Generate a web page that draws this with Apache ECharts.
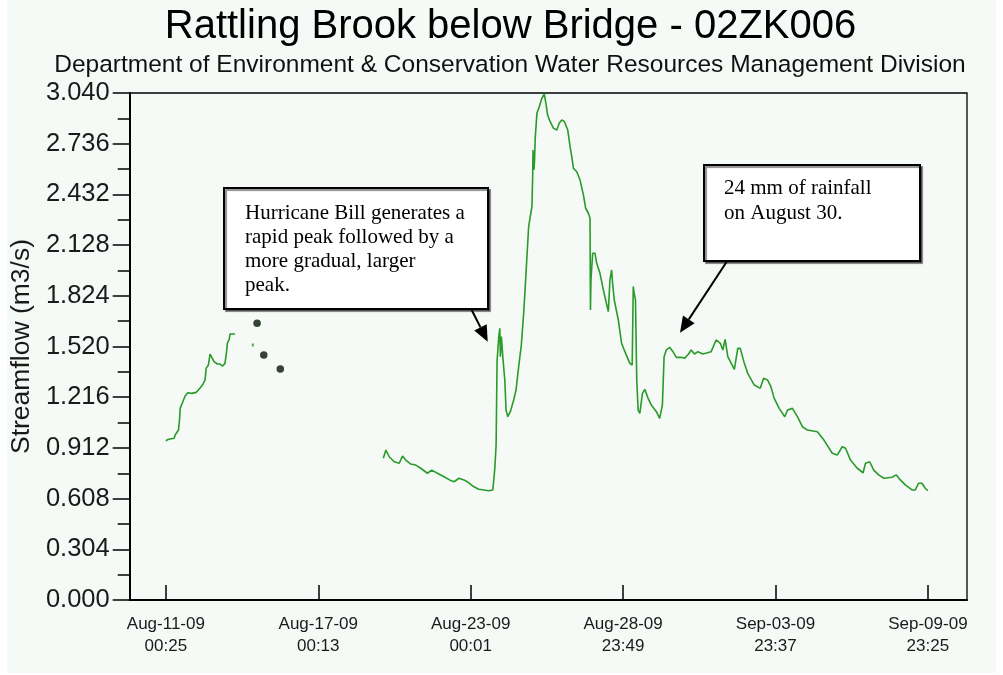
<!DOCTYPE html>
<html>
<head>
<meta charset="utf-8">
<title>Rattling Brook below Bridge - 02ZK006</title>
<script src="https://cdn.jsdelivr.net/npm/echarts@6/dist/echarts.min.js"></script>
<style>
  html, body { margin: 0; padding: 0; background: #ffffff; }
  #chart { width: 1003px; height: 675px; }
</style>
</head>
<body>
<div id="chart"></div>
<script>
// Hours elapsed since Aug-11-09 00:25, and streamflow in m3/s.
// First stretch of record (before the gauge outage).
const hoursEarly = [0, 2.5, 7.9, 8.8, 11.9, 12.9, 13.5, 16.0, 18.2, 20.7, 24.4, 28.6, 30.7, 33.8, 35.4,
  37.0, 38.0, 40.1, 41.7, 43.2, 45.5, 48.6, 51.1, 53.5, 55.8, 57.3, 58.0, 59.8, 60.5, 65.2];
const flowEarly = [0.955, 0.964, 0.970, 0.989, 1.019, 1.079, 1.149, 1.189, 1.223, 1.243, 1.239, 1.245, 1.259, 1.283, 1.299,
  1.319, 1.389, 1.409, 1.475, 1.469, 1.429, 1.415, 1.415, 1.403, 1.419, 1.489, 1.539, 1.563, 1.595, 1.595];

// Lone logged reading inside the outage.
const hoursLone = [82.1];
const flowLone = [1.529];

// Manual (field) measurements.
const hoursManual = [86.1, 92.4, 108.0];
const flowManual = [1.659, 1.469, 1.385];

// Second stretch of record: Hurricane Bill and the recession after it.
const hoursLate = [205.2, 207.6, 210.8, 215.5, 220.2, 223.3, 226.4, 231.1, 235.8, 240.5, 246.8, 250.8, 256.2, 262.5,
  267.7, 271.9, 276.6, 281.3, 285.9, 290.6, 295.3, 300.0, 304.7, 308.5, 310.4, 311.6, 312.5, 314.1, 315.1, 315.6,
  316.6, 317.9, 319.8, 321.0, 322.6, 325.0, 328.2, 330.4, 332.9, 335.4, 337.6, 339.1, 340.7, 342.3, 343.8, 345.4,
  346.1, 346.4, 347.3, 347.9, 348.5, 350.1, 352.3, 354.8, 357.0, 358.6, 360.2, 362.6, 365.8, 368.9, 371.1, 373.6,
  376.1, 379.2, 381.4, 383.0, 384.6, 387.7, 390.8, 394.0, 396.1, 398.7, 400.2, 400.6, 401.1, 402.7, 404.9, 406.5,
  409.6, 412.8, 417.5, 419.0, 420.6, 421.5, 423.1, 426.9, 430.0, 433.1, 437.8, 440.0, 441.0, 441.9, 443.1, 444.3,
  445.6, 447.2, 449.7, 451.9, 455.0, 458.1, 462.8, 465.9, 468.5, 470.1, 472.2, 475.3, 478.5, 481.6, 486.3, 489.4,
  493.2, 495.7, 498.8, 502.0, 506.7, 514.5, 519.2, 523.2, 525.5, 527.7, 530.2, 536.4, 539.6, 542.0, 545.8, 549.0,
  555.2, 560.8, 564.0, 567.8, 570.9, 574.0, 578.7, 584.0, 586.6, 591.2, 595.9, 600.6, 605.3, 614.7, 620.9, 628.8,
  633.5, 638.2, 641.3, 646.0, 652.3, 657.9, 660.1, 664.1, 667.9, 672.6, 677.3, 685.2, 689.2, 693.0, 697.7, 704.0,
  707.1, 710.2, 713.4, 716.5, 719.0];
const flowLate = [0.850, 0.899, 0.859, 0.829, 0.820, 0.863, 0.839, 0.815, 0.809, 0.790, 0.760, 0.779, 0.760, 0.739,
  0.720, 0.709, 0.730, 0.720, 0.703, 0.679, 0.664, 0.660, 0.655, 0.660, 0.790, 0.929, 1.429, 1.579, 1.629, 1.459,
  1.579, 1.459, 1.319, 1.139, 1.099, 1.129, 1.199, 1.259, 1.399, 1.529, 1.719, 1.879, 2.058, 2.238, 2.298, 2.358,
  2.538, 2.698, 2.578, 2.638, 2.768, 2.918, 2.958, 3.008, 3.034, 2.978, 2.908, 2.868, 2.828, 2.818, 2.858, 2.878,
  2.868, 2.818, 2.718, 2.658, 2.588, 2.568, 2.518, 2.428, 2.349, 2.319, 2.289, 1.739, 1.919, 2.079, 2.079, 2.019,
  1.959, 1.859, 1.729, 1.919, 1.979, 1.899, 1.799, 1.679, 1.539, 1.489, 1.419, 1.409, 1.879, 1.839, 1.799, 1.319,
  1.139, 1.119, 1.239, 1.263, 1.209, 1.169, 1.129, 1.089, 1.169, 1.459, 1.499, 1.515, 1.489, 1.455, 1.455, 1.449,
  1.475, 1.499, 1.475, 1.489, 1.475, 1.489, 1.559, 1.539, 1.499, 1.563, 1.459, 1.383, 1.509, 1.509, 1.419, 1.359,
  1.289, 1.269, 1.329, 1.319, 1.279, 1.209, 1.149, 1.099, 1.139, 1.149, 1.099, 1.039, 1.019, 1.009, 0.959, 0.880,
  0.869, 0.919, 0.910, 0.839, 0.790, 0.763, 0.820, 0.829, 0.779, 0.750, 0.730, 0.736, 0.750, 0.720, 0.690, 0.660,
  0.660, 0.700, 0.700, 0.670, 0.655];

// Time-axis ticks (hours since start) and their labels.
const tickHours = [0, 143.8, 287.6, 431.4, 575.2, 719];
const tickLabels = ['Aug-11-09\n00:25', 'Aug-17-09\n00:13', 'Aug-23-09\n00:01',
  'Aug-28-09\n23:49', 'Sep-03-09\n23:37', 'Sep-09-09\n23:25'];

// Flow-axis settings.
const flowMax = 3.04;
const flowStep = 0.304;

const titleText = 'Rattling Brook below Bridge - 02ZK006';
const subtitleText = 'Department of Environment & Conservation Water Resources Management Division';
const noteBill = ['Hurricane Bill generates a', 'rapid peak followed by a', 'more gradual, larger', 'peak.'];
const noteRain = ['24 mm of rainfall', 'on August 30.'];

// Build [x, y] pairs; a null row breaks the line across the outage.
const pairs = (xs, ys) => xs.map((x, i) => [x, ys[i]]);
const flowLine = pairs(hoursEarly, flowEarly).concat([[null, null]], pairs(hoursLate, flowLate));

const chart = echarts.init(document.getElementById('chart'));

const SANS = '"Liberation Sans", Arial, sans-serif';
const SERIF = '"Liberation Serif", "Times New Roman", serif';

// Callout box with text lines.
function callout(x, y, w, h, lines, tx, ty, lh) {
  const els = [{
    type: 'rect',
    shape: { x: x, y: y, width: w, height: h },
    style: {
      fill: '#ffffff', stroke: '#000000', lineWidth: 2,
      shadowColor: 'rgba(0,0,0,0.45)', shadowOffsetX: 2, shadowOffsetY: 2, shadowBlur: 1
    },
    z: 10
  }];
  lines.forEach((t, i) => {
    els.push({
      type: 'text',
      style: { text: t, x: tx, y: ty + i * lh, font: '21px ' + SERIF, fill: '#000000', verticalAlign: 'middle', align: 'left' },
      z: 11
    });
  });
  return els;
}

// Arrow from (x1, y1) to a filled head at (x2, y2).
function arrow(x1, y1, x2, y2) {
  const len = 16, half = 7;
  const dx = x2 - x1, dy = y2 - y1;
  const d = Math.sqrt(dx * dx + dy * dy);
  const ux = dx / d, uy = dy / d;
  const bx = x2 - ux * len, by = y2 - uy * len;
  return [{
    type: 'line',
    shape: { x1: x1, y1: y1, x2: bx, y2: by },
    style: { stroke: '#000000', lineWidth: 2 },
    z: 10
  }, {
    type: 'polygon',
    shape: { points: [[x2, y2], [bx - uy * half, by + ux * half], [bx + uy * half, by - ux * half]] },
    style: { fill: '#000000' },
    z: 10
  }];
}

const option = {
  animation: false,
  backgroundColor: '#ffffff',
  grid: {
    left: 126, right: 36, top: 93, bottom: 75,
    show: true, borderColor: '#000000', borderWidth: 1.3, backgroundColor: 'transparent'
  },
  xAxis: {
    type: 'value',
    min: -34.1,
    max: 755.9,
    axisLine: { show: true, onZero: false, lineStyle: { color: '#000000', width: 2 } },
    axisTick: { show: true, inside: true, length: 15, customValues: tickHours, lineStyle: { color: '#000000', width: 1.5 } },
    axisLabel: {
      customValues: tickHours,
      margin: 14,
      fontFamily: SANS, fontSize: 17, lineHeight: 21.6, color: '#1a1a1a',
      formatter: function (v) {
        const i = tickHours.findIndex(t => Math.abs(t - v) < 0.01);
        return i >= 0 ? tickLabels[i] : '';
      }
    },
    splitLine: { show: false }
  },
  yAxis: {
    type: 'value',
    min: 0,
    max: flowMax,
    interval: flowStep,
    name: 'Streamflow (m3/s)',
    nameLocation: 'middle',
    nameRotate: 90,
    nameGap: 92,
    nameTextStyle: { fontFamily: SANS, fontSize: 26.5, color: '#1a1a1a' },
    axisLine: { show: true, onZero: false, lineStyle: { color: '#000000', width: 2 } },
    axisTick: { show: true, inside: false, length: 17, lineStyle: { color: '#000000', width: 1.5 } },
    minorTick: { show: true, splitNumber: 2, length: 12, lineStyle: { color: '#000000', width: 1.5 } },
    axisLabel: {
      margin: 20,
      fontFamily: SANS, fontSize: 25.5, color: '#1a1a1a',
      formatter: v => v.toFixed(3)
    },
    splitLine: { show: false }
  },
  series: [{
    name: 'Streamflow',
    type: 'line',
    data: flowLine,
    connectNulls: false,
    showSymbol: false,
    symbol: 'none',
    lineStyle: { color: '#2a9a2a', width: 1.6 },
    z: 3
  }, {
    name: 'Logged reading',
    type: 'scatter',
    data: pairs(hoursLone, flowLone),
    symbol: 'rect',
    symbolSize: [2, 3],
    itemStyle: { color: '#2a9a2a' },
    z: 3
  }, {
    name: 'Manual measurement',
    type: 'scatter',
    data: pairs(hoursManual, flowManual),
    symbolSize: 7.5,
    itemStyle: { color: '#061406' },
    z: 4
  }],
  graphic: [
    {
      type: 'rect',
      shape: { x: 7, y: 0, width: 989, height: 673 },
      style: { fill: '#f5faf6' },
      z: -100, silent: true
    },
    {
      type: 'text',
      style: { text: titleText, x: 510.5, y: 27, font: '40px ' + SANS, fill: '#000000', align: 'center', verticalAlign: 'middle' }
    },
    {
      type: 'text',
      style: { text: subtitleText, x: 510, y: 65.5, font: '24.5px ' + SANS, fill: '#111111', align: 'center', verticalAlign: 'middle' }
    }
  ]
    .concat(callout(224, 188, 264, 121, noteBill, 245, 213.3, 24.2))
    .concat(arrow(471.7, 310, 487.7, 341.7))
    .concat(callout(704, 165, 216, 96, noteRain, 724, 188.3, 25))
    .concat(arrow(726.7, 261.7, 680, 332.7))
};

chart.setOption(option);
</script>
</body>
</html>
